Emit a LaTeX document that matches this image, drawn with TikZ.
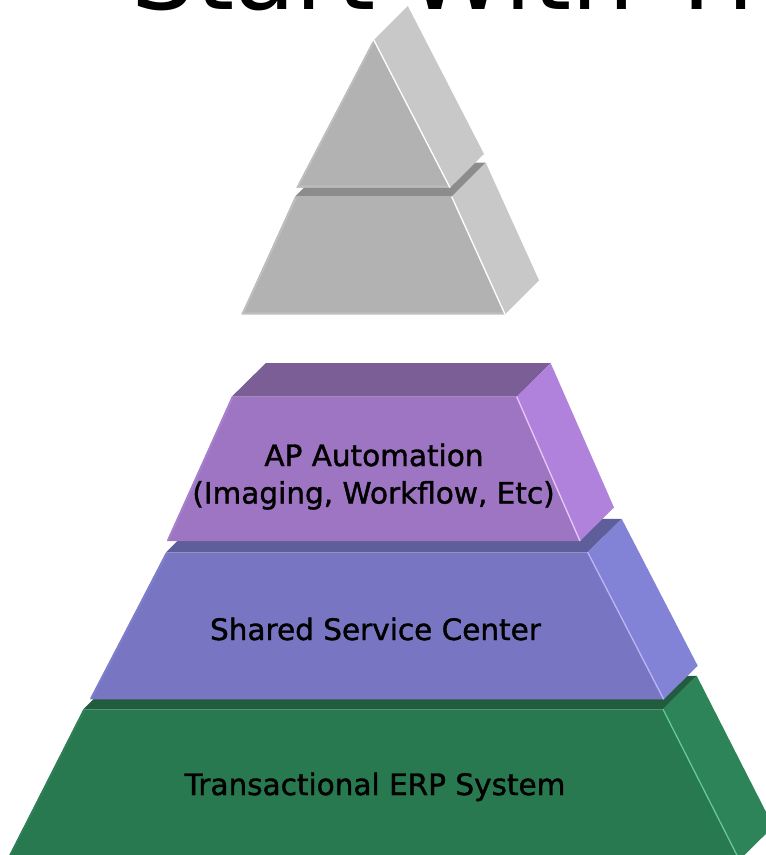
\documentclass[tikz,border=0pt]{standalone}
\usepackage{fontspec}
\newfontfamily\dvs{DejaVu Sans}
\newfontfamily\dvsb{DejaVu Sans}[FakeBold=1.3]
\definecolor{gFront}{HTML}{B2B2B2}
\definecolor{gSide}{HTML}{C8C8C8}
\definecolor{gTop}{HTML}{8C8C8C}
\definecolor{gEdge}{HTML}{BEBEBE}
\definecolor{pFront}{HTML}{9E75C2}
\definecolor{pSide}{HTML}{B082DC}
\definecolor{pTop}{HTML}{7B5E96}
\definecolor{pSep}{HTML}{E8C8F8}
\definecolor{pEdge}{HTML}{A87FCC}
\definecolor{bFront}{HTML}{7876C2}
\definecolor{bSide}{HTML}{8282D6}
\definecolor{bTop}{HTML}{5E5E9A}
\definecolor{bSep}{HTML}{B8B8F8}
\definecolor{bEdge}{HTML}{7F7ECC}
\definecolor{nFront}{HTML}{287850}
\definecolor{nSide}{HTML}{2C8458}
\definecolor{nTop}{HTML}{225C3E}
\definecolor{nSep}{HTML}{66C896}
\definecolor{nEdge}{HTML}{2E8056}
\begin{document}
\begin{tikzpicture}[x=1pt,y=-1pt,line join=miter,
  lbl/.style={inner sep=0pt,anchor=base,font=\dvsb\fontsize{29.5}{36}\selectfont,text=black},
  sep/.style={line width=1.3pt},
  bevel/.style={line width=2pt}]
\clip (0,0) rectangle (766,855);
\fill[white] (0,0) rectangle (766,855);
% title (cut off at top, as in the reference)
\node[inner sep=0pt,anchor=base west,font=\dvs\fontsize{100}{120}\selectfont] (title) at (131.3,9.5) {Start With The};
% ---------- green layer
\fill[nTop] (83.3,709.3) -- (117,675.8) -- (696.7,675.8) -- (663,709.3) -- cycle;
\fill[nSide] (663,709.3) -- (696.7,675.8) -- (773.4,826.5) -- (739.4,860) -- cycle;
\fill[nFront] (83.3,709.3) -- (663,709.3) -- (739.4,860) -- (6.9,860) -- cycle;
\draw[nEdge,bevel] (84.3,710.3) -- (7.9,860);
\draw[nSep,sep] (663,709.3) -- (739.4,860);
% ---------- blue layer
\fill[bTop] (166,552.3) -- (200,518.8) -- (621.7,518.8) -- (587.7,552.3) -- cycle;
\fill[bSide] (587.7,552.3) -- (621.7,518.8) -- (697.7,665.8) -- (663.7,699.3) -- cycle;
\fill[bFront] (166,552.3) -- (587.7,552.3) -- (663.7,699.3) -- (90,699.3) -- cycle;
\draw[bEdge,bevel] (167,553.3) -- (91.2,698.3);
\draw[bSep,sep] (587.7,552.3) -- (663.7,699.3);
% ---------- purple layer
\fill[pTop] (231.7,396.7) -- (265.7,363.2) -- (550.7,363.2) -- (516.7,396.7) -- cycle;
\fill[pSide] (516.7,396.7) -- (550.7,363.2) -- (614,507.5) -- (580,541) -- cycle;
\fill[pFront] (231.7,396.7) -- (516.7,396.7) -- (580,541) -- (167,541) -- cycle;
\draw[pEdge,bevel] (232.7,397.7) -- (168.2,540);
\draw[pSep,sep] (516.7,396.7) -- (580,541);
% ---------- gray lower trapezoid
\fill[gTop] (295,196.7) -- (329,162.7) -- (485.7,162.7) -- (451.7,196.7) -- cycle;
\fill[gSide] (451.7,196.7) -- (485.7,162.7) -- (539,280.3) -- (505,314.3) -- cycle;
\fill[gFront] (295,196.7) -- (451.7,196.7) -- (505,314.3) -- (241.7,314.3) -- cycle;
\draw[gEdge,bevel] (296,197.7) -- (242.9,313.3) -- (504.3,313.3);
\draw[white,sep] (451.7,196.7) -- (505,314.3);
% ---------- gray upper triangle
\fill[gSide] (373.8,40) -- (407.8,6) -- (484,154) -- (450,187.7) -- cycle;
\fill[gFront] (373.8,40) -- (450,187.7) -- (296.7,187.7) -- cycle;
\draw[gEdge,bevel] (373.4,42) -- (297.9,186.7) -- (449.3,186.7);
\draw[white,sep] (373.8,40) -- (450,187.7);
% ---------- labels
\node[lbl] (ap1) at (374,466) {AP Automation};
\node[lbl] (ap2) at (373.5,503.5) {(Imaging, Workflow, Etc)};
\node[lbl] (ssc) at (375.5,640) {Shared Service Center};
\node[lbl] (erp) at (375,795) {Transactional ERP System};
\end{tikzpicture}
\end{document}
